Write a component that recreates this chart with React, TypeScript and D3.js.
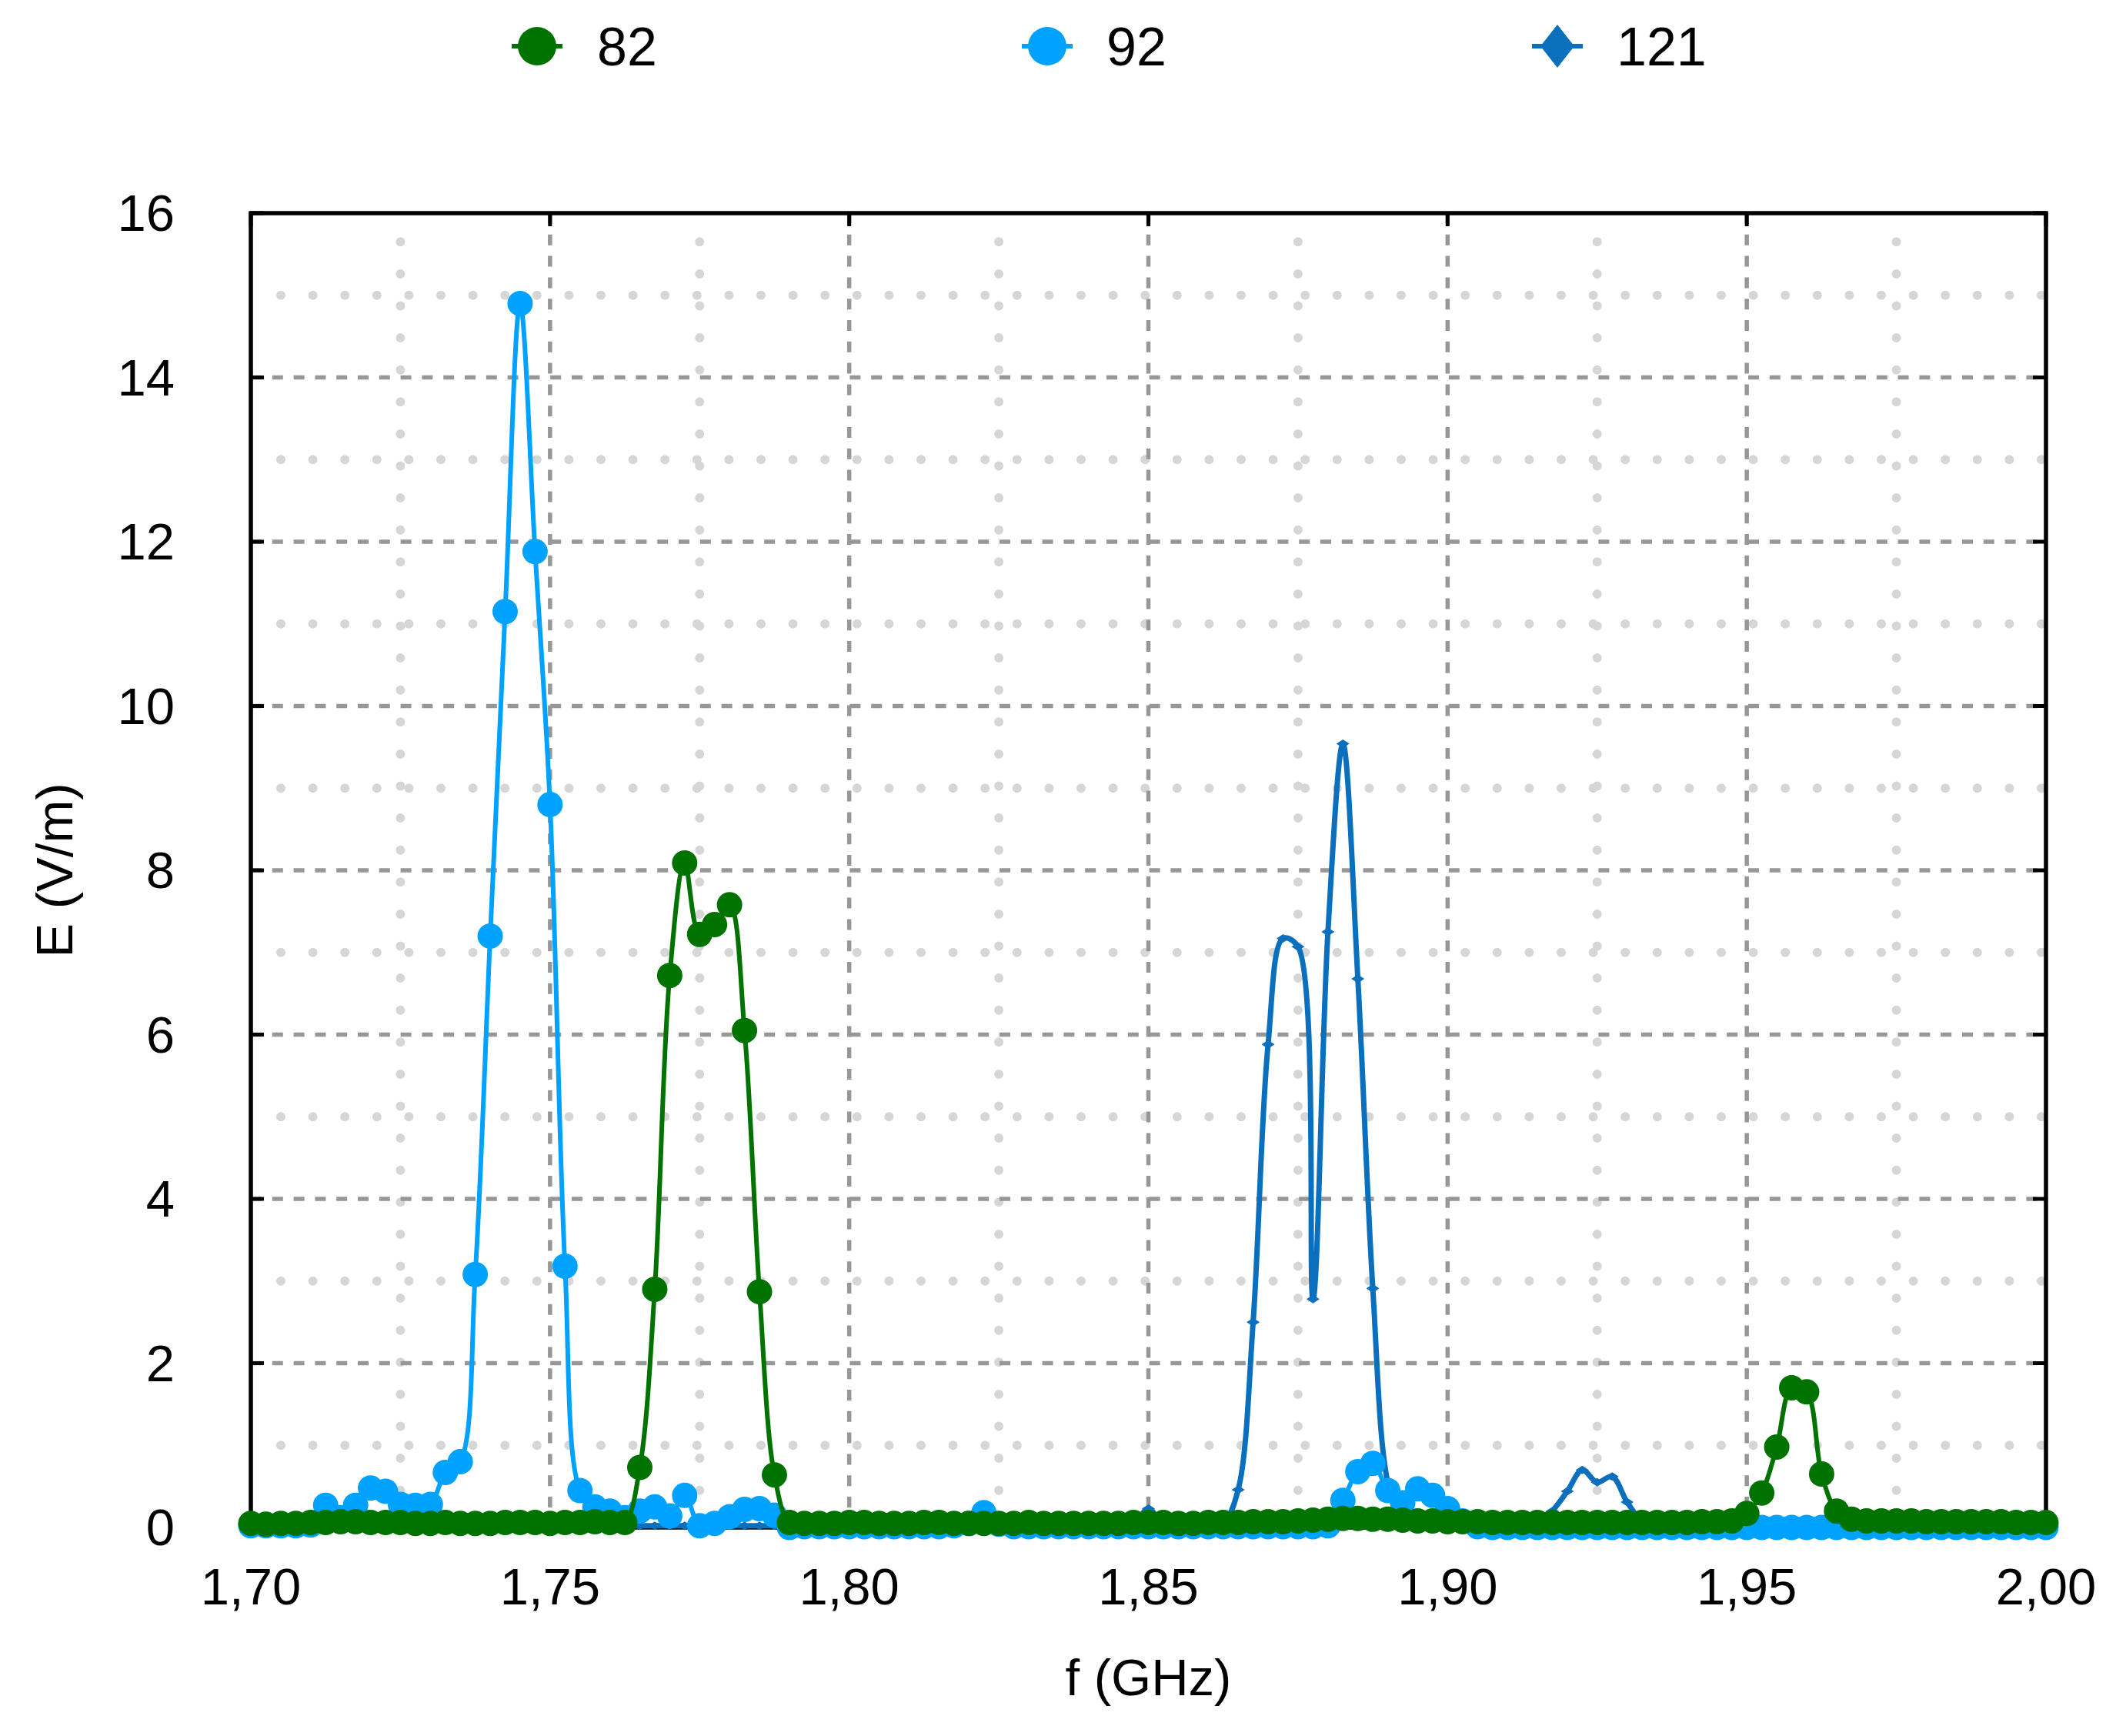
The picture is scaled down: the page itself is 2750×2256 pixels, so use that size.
import React from "react";
import * as d3 from "d3";

// Frequency categories (GHz), 0.0025 GHz steps from 1.70 to 2.00
const freqs: number[] = d3.range(121).map((i) => +(1.7 + i * 0.0025).toFixed(4));

// Series "82"
const s82: number[] = [
  0.05, 0.04, 0.05, 0.05, 0.06, 0.06, 0.07, 0.07, 0.06, 0.06,
  0.06, 0.05, 0.05, 0.06, 0.05, 0.05, 0.05, 0.06, 0.06, 0.06,
  0.05, 0.06, 0.06, 0.07, 0.06, 0.06, 0.73, 2.9, 6.72, 8.09,
  7.22, 7.34, 7.58, 6.05, 2.87, 0.64, 0.06, 0.05, 0.05, 0.05,
  0.06, 0.06, 0.05, 0.05, 0.05, 0.06, 0.06, 0.05, 0.05, 0.05,
  0.05, 0.05, 0.06, 0.05, 0.05, 0.05, 0.05, 0.05, 0.05, 0.06,
  0.06, 0.06, 0.05, 0.05, 0.06, 0.06, 0.06, 0.07, 0.07, 0.07,
  0.08, 0.09, 0.1, 0.11, 0.11, 0.1, 0.1, 0.09, 0.08, 0.08,
  0.07, 0.07, 0.07, 0.06, 0.06, 0.06, 0.06, 0.06, 0.06, 0.06,
  0.06, 0.06, 0.06, 0.06, 0.06, 0.06, 0.06, 0.07, 0.07, 0.08,
  0.17, 0.42, 0.98, 1.7, 1.65, 0.65, 0.2, 0.1, 0.08, 0.08,
  0.08, 0.08, 0.07, 0.07, 0.07, 0.07, 0.07, 0.07, 0.06, 0.06,
  0.06,
];

// Series "92"
const s92: number[] = [
  0.02, 0.02, 0.02, 0.02, 0.03, 0.27, 0.12, 0.27, 0.48, 0.44,
  0.28, 0.27, 0.28, 0.67, 0.8, 3.08, 7.2, 11.15, 14.9, 11.88,
  8.8, 3.18, 0.45, 0.25, 0.2, 0.12, 0.2, 0.25, 0.14, 0.39,
  0.02, 0.05, 0.13, 0.22, 0.23, 0.15, 0.0, 0.01, 0.01, 0.01,
  0.01, 0.01, 0.01, 0.01, 0.01, 0.01, 0.01, 0.02, 0.05, 0.18,
  0.04, 0.01, 0.01, 0.01, 0.01, 0.01, 0.01, 0.01, 0.01, 0.01,
  0.01, 0.01, 0.01, 0.01, 0.01, 0.01, 0.01, 0.01, 0.01, 0.01,
  0.01, 0.01, 0.02, 0.33, 0.68, 0.78, 0.45, 0.3, 0.47, 0.39,
  0.23, 0.08, 0.01, 0.0, 0.0, 0.0, 0.0, 0.0, 0.0, 0.0,
  0.0, 0.0, 0.0, 0.0, 0.0, 0.0, 0.0, 0.0, 0.0, 0.0,
  0.0, 0.0, 0.0, 0.0, 0.0, 0.0, 0.0, 0.0, 0.0, 0.0,
  0.0, 0.0, 0.0, 0.0, 0.0, 0.0, 0.0, 0.0, 0.0, 0.0,
  0.0,
];

// Series "121"
const s121: number[] = [
  0.02, 0.02, 0.02, 0.02, 0.02, 0.02, 0.02, 0.02, 0.02, 0.02,
  0.02, 0.02, 0.02, 0.02, 0.02, 0.02, 0.02, 0.02, 0.02, 0.02,
  0.02, 0.02, 0.02, 0.02, 0.02, 0.02, 0.02, 0.02, 0.02, 0.02,
  0.02, 0.02, 0.02, 0.02, 0.02, 0.02, 0.02, 0.02, 0.02, 0.02,
  0.02, 0.02, 0.02, 0.02, 0.02, 0.02, 0.02, 0.02, 0.02, 0.02,
  0.02, 0.02, 0.02, 0.02, 0.02, 0.02, 0.02, 0.02, 0.02, 0.03,
  0.23, 0.03, 0.02, 0.02, 0.03, 0.05, 0.46, 2.5, 5.88, 7.17,
  7.07, 2.78, 7.25, 9.54, 6.68, 2.91, 0.55, 0.05, 0.03, 0.02,
  0.02, 0.02, 0.02, 0.02, 0.02, 0.02, 0.03, 0.2, 0.44, 0.7,
  0.55, 0.62, 0.31, 0.08, 0.03, 0.02, 0.02, 0.02, 0.02, 0.02,
  0.02, 0.02, 0.02, 0.02, 0.02, 0.02, 0.02, 0.02, 0.02, 0.02,
  0.02, 0.02, 0.02, 0.02, 0.02, 0.02, 0.02, 0.02, 0.02, 0.02,
  0.02,
];

const seriesNames = ["82", "92", "121"];
const seriesColors = ["#007200", "#00a2ff", "#0a70be"];
const xTicks = [1.7, 1.75, 1.8, 1.85, 1.9, 1.95, 2.0];
const yTicks = [0, 2, 4, 6, 8, 10, 12, 14, 16];
const xMinor = [1.725, 1.775, 1.825, 1.875, 1.925, 1.975];
const yMinor = [1, 3, 5, 7, 9, 11, 13, 15];

const W = 2750;
const H = 2256;
const L = 326;
const R = 2659;
const T = 277;
const B = 1985;
const FONT = "'Liberation Sans', Arial, Helvetica, sans-serif";

export default function App() {
  const x = d3.scaleLinear().domain([1.7, 2.0]).range([L, R]);
  const y = d3.scaleLinear().domain([0, 16]).range([B, T]);
  const fmt = (v: number) => v.toFixed(2).replace(".", ",");

  const mkLine = (vals: number[]) =>
    d3
      .line<number>()
      .x((_, i) => x(freqs[i]))
      .y((v) => y(v))
      .curve(d3.curveCatmullRom.alpha(0.5))(vals) || "";

  const diamond = (s: number, h: number) => `M0,${-h} L${s},0 L0,${h} L${-s},0 Z`;

  const legendX = [698, 1361, 2024];
  const legendTextX = [776, 1438, 2101];

  return (
    <svg
      width={W}
      height={H}
      style={{ position: "absolute", left: 0, top: 0, background: "#fff" }}
      fontFamily={FONT}
    >
      <rect x={0} y={0} width={W} height={H} fill="#fff" />
      {/* minor grid (dotted) */}
      {yMinor.map((v) => (
        <line
          key={"ym" + v}
          x1={L}
          x2={R}
          y1={y(v)}
          y2={y(v)}
          stroke="#d6d6d6"
          strokeWidth={12}
          strokeLinecap="round"
          strokeDasharray="0 41.6"
          strokeDashoffset={2.6}
        />
      ))}
      {xMinor.map((v) => (
        <line
          key={"xm" + v}
          x1={x(v)}
          x2={x(v)}
          y1={T}
          y2={B}
          stroke="#d6d6d6"
          strokeWidth={12}
          strokeLinecap="round"
          strokeDasharray="0 41.6"
          strokeDashoffset={4.3}
        />
      ))}
      {/* major grid (dashed) */}
      {yTicks.slice(1, -1).map((v) => (
        <line
          key={"yg" + v}
          x1={L}
          x2={R}
          y1={y(v)}
          y2={y(v)}
          stroke="#979797"
          strokeWidth={5.5}
          strokeDasharray="14 13.8"
        />
      ))}
      {xTicks.slice(1, -1).map((v) => (
        <line
          key={"xg" + v}
          x1={x(v)}
          x2={x(v)}
          y1={T}
          y2={B}
          stroke="#979797"
          strokeWidth={5.5}
          strokeDasharray="14 13.8"
        />
      ))}
      {/* frame */}
      <rect x={L} y={T} width={R - L} height={B - T} fill="none" stroke="#000" strokeWidth={5.5} />
      {yTicks.map((v) => (
        <g key={"yt" + v}>
          <line x1={L} x2={L + 17} y1={y(v)} y2={y(v)} stroke="#000" strokeWidth={5} />
          <line x1={R} x2={R - 17} y1={y(v)} y2={y(v)} stroke="#000" strokeWidth={5} />
          <text x={227} y={y(v)} dy="0.35em" textAnchor="end" fontSize={67} fill="#000">
            {v}
          </text>
        </g>
      ))}
      {xTicks.map((v) => (
        <g key={"xt" + v}>
          <line x1={x(v)} x2={x(v)} y1={T} y2={T + 17} stroke="#000" strokeWidth={5} />
          <line x1={x(v)} x2={x(v)} y1={B} y2={B - 17} stroke="#000" strokeWidth={5} />
          <text x={x(v)} y={2085} textAnchor="middle" fontSize={67} fill="#000">
            {fmt(v)}
          </text>
        </g>
      ))}
      <text x={(L + R) / 2} y={2203} textAnchor="middle" fontSize={67} fill="#000">
        f (GHz)
      </text>
      <text
        transform={`translate(94,${(T + B) / 2}) rotate(-90)`}
        textAnchor="middle"
        fontSize={67}
        fill="#000"
      >
        E (V/m)
      </text>

      {/* series 121 */}
      <path d={mkLine(s121)} fill="none" stroke={seriesColors[2]} strokeWidth={7} />
      {s121.map((v, i) => (
        <path
          key={"p121" + i}
          d={diamond(8.5, 5.5)}
          transform={`translate(${x(freqs[i])},${y(v)})`}
          fill={seriesColors[2]}
        />
      ))}
      {/* series 92 */}
      <path d={mkLine(s92)} fill="none" stroke={seriesColors[1]} strokeWidth={6} />
      {s92.map((v, i) => (
        <circle key={"p92" + i} cx={x(freqs[i])} cy={y(v)} r={16.5} fill={seriesColors[1]} />
      ))}
      {/* series 82 */}
      <path d={mkLine(s82)} fill="none" stroke={seriesColors[0]} strokeWidth={6} />
      {s82.map((v, i) => (
        <circle key={"p82" + i} cx={x(freqs[i])} cy={y(v)} r={16.5} fill={seriesColors[0]} />
      ))}

      {/* legend */}
      {seriesNames.map((name, k) => (
        <g key={"lg" + name}>
          <line
            x1={legendX[k] - 33}
            x2={legendX[k] + 33}
            y1={60}
            y2={60}
            stroke={seriesColors[k]}
            strokeWidth={6}
          />
          {k < 2 ? (
            <circle cx={legendX[k]} cy={60} r={25} fill={seriesColors[k]} />
          ) : (
            <path d={diamond(22, 28)} transform={`translate(${legendX[k]},60)`} fill={seriesColors[k]} />
          )}
          <text x={legendTextX[k]} y={85} fontSize={70} fill="#000">
            {name}
          </text>
        </g>
      ))}
    </svg>
  );
}
